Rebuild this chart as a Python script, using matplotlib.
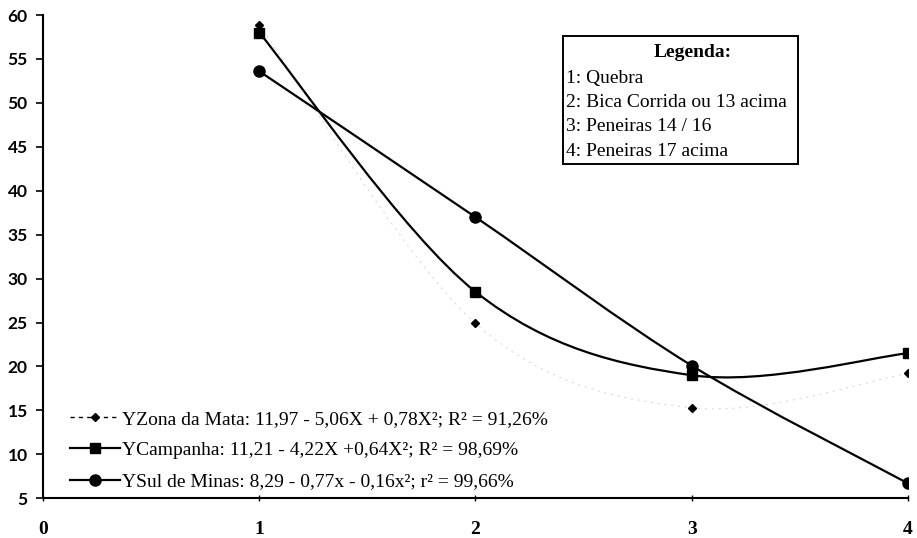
import numpy as np
import matplotlib.pyplot as plt
from matplotlib.path import Path
from matplotlib.patches import PathPatch
from matplotlib.lines import Line2D

classes = [1, 2, 3, 4]
zona_da_mata = [58.9, 24.9, 15.3, 19.2]
campanha = [58.0, 28.5, 19.0, 21.5]
sul_de_minas = [53.6, 37.0, 20.1, 6.7]

labels = [
    "YZona da Mata: 11,97 - 5,06X + 0,78X²; R² = 91,26%",
    "YCampanha: 11,21 - 4,22X +0,64X²; R² = 98,69%",
    "YSul de Minas: 8,29 - 0,77x - 0,16x²; r² = 99,66%",
]
legend_title = "Legenda:"
legend_items = [
    "1: Quebra",
    "2: Bica Corrida ou 13 acima",
    "3: Peneiras 14 / 16",
    "4: Peneiras 17 acima",
]

SERIF = "Liberation Serif"


def smooth_path(ax, xs, ys):
    """Excel-style smoothed line: cubic Bezier, control points from neighbours (in pixels)."""
    pts = ax.transData.transform(np.column_stack([xs, ys]))
    n = len(pts)
    verts = [pts[0]]
    codes = [Path.MOVETO]
    for i in range(n - 1):
        p0 = pts[max(i - 1, 0)]
        p1 = pts[i]
        p2 = pts[i + 1]
        p3 = pts[min(i + 2, n - 1)]
        c1 = p1 + (p2 - p0) / 6
        c2 = p2 - (p3 - p1) / 6
        verts += [c1, c2, p2]
        codes += [Path.CURVE4] * 3
    verts = ax.transData.inverted().transform(np.array(verts))
    return Path(verts, codes)


fig = plt.figure(figsize=(9.17, 5.38), dpi=100)
ax = fig.add_axes([0.047, 0.074, 0.943, 0.898])
ax.set_xlim(0, 4)
ax.set_ylim(5, 60)

# Zona da Mata: very faint dashed line (barely visible in the scan)
ax.add_patch(PathPatch(smooth_path(ax, classes, zona_da_mata), fill=False,
                       edgecolor="#d2d2d2", lw=0.7, linestyle=(0, (2, 5))))
ax.plot(classes, zona_da_mata, linestyle="none", marker="D", ms=4, color="black")

ax.add_patch(PathPatch(smooth_path(ax, classes, campanha), fill=False,
                       edgecolor="black", lw=1.6))
ax.plot(classes, campanha, linestyle="none", marker="s", ms=7.5, color="black")

ax.add_patch(PathPatch(smooth_path(ax, classes, sul_de_minas), fill=False,
                       edgecolor="black", lw=1.6))
ax.plot(classes, sul_de_minas, linestyle="none", marker="o", ms=8, color="black")

for s in ["top", "right"]:
    ax.spines[s].set_visible(False)
ax.spines["left"].set_linewidth(1.5)
ax.spines["bottom"].set_linewidth(1.5)

ax.set_yticks(np.arange(5, 61, 5))
ax.set_xticks([0, 1, 2, 3, 4])
ax.tick_params(axis="y", direction="out", length=5, width=1.2, pad=6)
ax.tick_params(axis="x", direction="inout", length=5, width=1, pad=14)
for t in ax.get_yticklabels():
    t.set_fontfamily("Lato")
    t.set_fontweight("bold")
    t.set_fontsize(12.5)
for t in ax.get_xticklabels():
    t.set_fontfamily(SERIF)
    t.set_fontweight("bold")
    t.set_fontsize(14)

handles = [
    Line2D([], [], color="black", lw=1, linestyle=(0, (3, 3)), marker="D", ms=4),
    Line2D([], [], color="black", lw=1.6, marker="s", ms=7.5),
    Line2D([], [], color="black", lw=1.6, marker="o", ms=8),
]
leg = ax.legend(handles, labels, loc="lower left", bbox_to_anchor=(0.022, 0.0),
                frameon=False, handlelength=2.6, handletextpad=0.1,
                labelspacing=0.7, borderaxespad=0.0,
                prop={"family": SERIF, "size": 14})

# category legend box
box_lines = "\n".join(legend_items)
ax.text(0.6046, 0.886, box_lines, transform=ax.transAxes, ha="left", va="top",
        fontfamily=SERIF, fontsize=14, linespacing=1.55)
ax.text(0.7514, 0.923, legend_title, transform=ax.transAxes, ha="center",
        va="center", fontfamily=SERIF, fontsize=14, fontweight="bold")
ax.add_patch(plt.Rectangle((0.601, 0.6915), 0.272, 0.265, transform=ax.transAxes,
                           fill=False, edgecolor="black", lw=1.4))

fig.savefig("out.png", dpi=100)
